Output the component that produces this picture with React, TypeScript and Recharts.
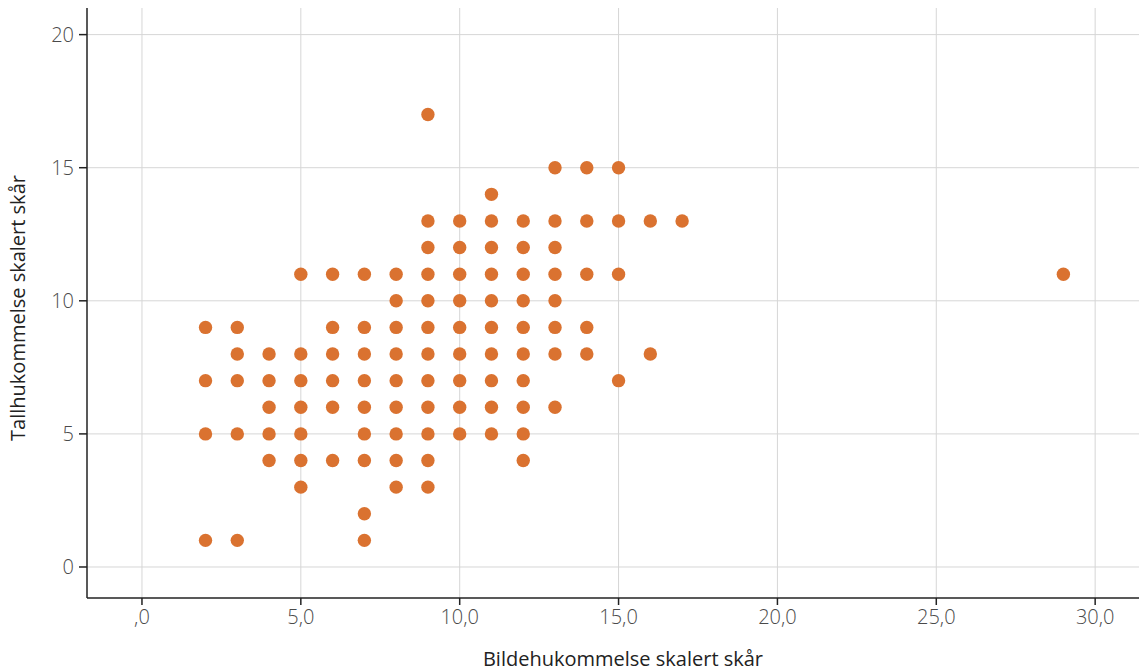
import React from "react";
import {
  ScatterChart,
  Scatter,
  XAxis,
  YAxis,
  ReferenceLine,
  Label,
} from "recharts";

// bildehukommelse (x) / tallhukommelse (y), one array per y-level
const yLevels = [17, 15, 14, 13, 12, 11, 10, 9, 8, 7, 6, 5, 4, 3, 2, 1];
const xByLevel: number[][] = [
  [9],
  [13, 14, 15],
  [11],
  [9, 10, 11, 12, 13, 14, 15, 16, 17],
  [9, 10, 11, 12, 13],
  [5, 6, 7, 8, 9, 10, 11, 12, 13, 14, 15, 29],
  [8, 9, 10, 11, 12, 13],
  [2, 3, 6, 7, 8, 9, 10, 11, 12, 13, 14],
  [3, 4, 5, 6, 7, 8, 9, 10, 11, 12, 13, 14, 16],
  [2, 3, 4, 5, 6, 7, 8, 9, 10, 11, 12, 15],
  [4, 5, 6, 7, 8, 9, 10, 11, 12, 13],
  [2, 3, 4, 5, 7, 8, 9, 10, 11, 12],
  [4, 5, 6, 7, 8, 9, 12],
  [5, 8, 9],
  [7],
  [2, 3, 7],
];

const xTicks = [0, 5, 10, 15, 20, 25, 30];
const yTicks = [0, 5, 10, 15, 20];

const points = yLevels.flatMap((y, i) => xByLevel[i].map((x) => ({ x, y })));

const FONT = "'Open Sans', 'Lato', sans-serif";
const DOT = "#DA7230";
const GRID = "#d6d6d6";

const fmtX = (v: number) => (v === 0 ? ",0" : `${v},0`);

export default function App() {
  return (
    <div style={{ position: "absolute", left: 0, top: 0, background: "#fff" }}>
      <ScatterChart
        width={1139}
        height={672}
        margin={{ top: 8, right: 0, bottom: 0, left: 0 }}
      >
        {yTicks.map((t) => (
          <ReferenceLine key={"h" + t} y={t} stroke={GRID} strokeWidth={1} />
        ))}
        {xTicks.map((t) => (
          <ReferenceLine key={"v" + t} x={t} stroke={GRID} strokeWidth={1} />
        ))}
        <XAxis
          type="number"
          dataKey="x"
          domain={[-1.73, 31.38]}
          ticks={xTicks}
          tickFormatter={fmtX}
          allowDataOverflow
          height={74}
          tickSize={7}
          tickMargin={5}
          stroke="#222"
          strokeWidth={1.5}
          tick={{ fill: "#4a4a4a", fontSize: 20, fontFamily: FONT, fontWeight: 300 }}
        >
          <Label
            value="Bildehukommelse skalert skår"
            position="insideBottom"
            offset={6}
            dx={10}
            style={{ fill: "#222", fontSize: 20, fontFamily: FONT, fontWeight: 400 }}
          />
        </XAxis>
        <YAxis
          type="number"
          dataKey="y"
          domain={[-1.165, 21.0]}
          ticks={yTicks}
          allowDataOverflow
          width={87}
          tickSize={8}
          tickMargin={5}
          stroke="#222"
          strokeWidth={1.5}
          tick={{ fill: "#4a4a4a", fontSize: 20, fontFamily: FONT, fontWeight: 300 }}
        >
          <Label
            value="Tallhukommelse skalert skår"
            angle={-90}
            position="insideLeft"
            offset={18}
            dy={5}
            style={{
              textAnchor: "middle",
              fill: "#222",
              fontSize: 20,
              fontFamily: FONT,
              fontWeight: 400,
            }}
          />
        </YAxis>
        <Scatter
          data={points}
          fill={DOT}
          isAnimationActive={false}
          shape={(p: any) => <circle cx={p.cx} cy={p.cy} r={6.7} fill={DOT} />}
        />
      </ScatterChart>
    </div>
  );
}
